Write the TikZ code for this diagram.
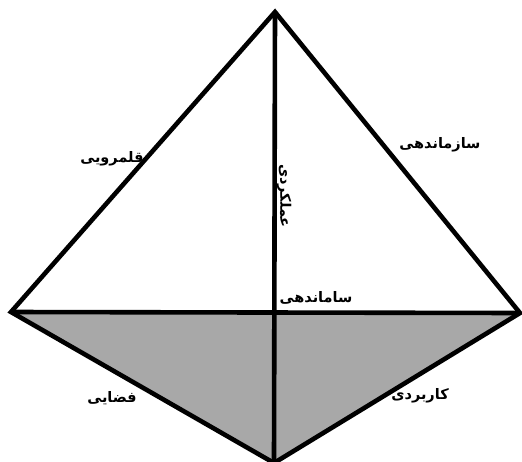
\documentclass[tikz,border=0pt]{standalone}
\usepackage{fontspec}
\TeXXeTstate=1
\newfontfamily\arabicfont[Script=Arabic]{DejaVu Sans Bold}
\begin{document}
\begin{tikzpicture}[x=1pt,y=-1pt,
  edge/.style={line width=4.6pt,line join=miter,line cap=butt},
  lbl/.style={font=\arabicfont\fontsize{14.5}{17}\selectfont,inner sep=0pt}]
\useasboundingbox (0,0) rectangle (522,461);
\coordinate (A) at (275,12);
\coordinate (L) at (11,312);
\coordinate (R) at (520,313);
\coordinate (B) at (274,463);
\coordinate (O) at (274,312.5);
\fill[gray!68] (L) -- (R) -- (B) -- cycle;
\draw[edge] (L) -- (A) -- (R) -- (B) -- cycle;
\draw[edge] (L) -- (R);
\draw[edge] (A) -- (B);
\node[lbl] (t1) at (112,159) {\beginR قلمرویی\endR};
\node[lbl] (t2) at (440,145) {\beginR سازماندهی\endR};
\node[lbl,rotate=-90] (t3) at (284,196) {\beginR عملکردی\endR};
\node[lbl] (t4) at (316,298) {\beginR ساماندهی\endR};
\node[lbl] (t5) at (112,398) {\beginR فضایی\endR};
\node[lbl] (t6) at (420,396) {\beginR کاربردی\endR};
\end{tikzpicture}
\end{document}
